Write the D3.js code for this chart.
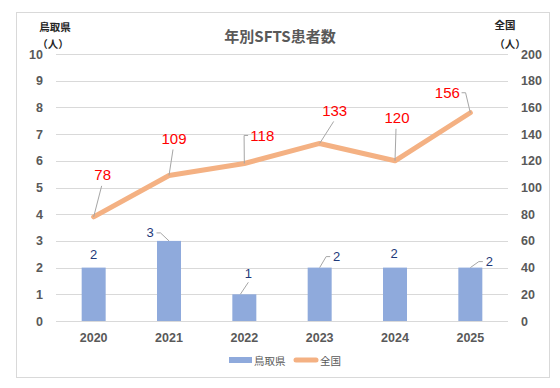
<!DOCTYPE html>
<html>
<head>
<meta charset="utf-8">
<script src="https://cdn.jsdelivr.net/npm/d3@7"></script>
<style>
  body { margin: 0; background: #fff; }
  text { font-family: "Noto Sans CJK JP", "Noto Sans", sans-serif; }
</style>
</head>
<body>
<div id="chart"></div>
<script>
// data
let years = ["2020", "2021", "2022", "2023", "2024", "2025"];
let tottori = [2, 3, 1, 2, 2, 2];
let national = [78, 109, 118, 133, 120, 156];
let leftTicks = [0, 1, 2, 3, 4, 5, 6, 7, 8, 9, 10];
let rightTicks = [0, 20, 40, 60, 80, 100, 120, 140, 160, 180, 200];

// label placement (pixel offsets from the mark, like Excel's dragged labels)
let lineLabelShift = [[9, -42], [5, -37], [18, -28], [15, -33], [2, -43], [-23, -20]];
let lineLeaderElbow = [false, false, true, false, false, true];
let barLabelShift = [[0, -13], [-19, -8], [4, -21], [17, -11], [-1, -14], [19, -6]];

let width = 560, height = 388;
let plot = { left: 56, right: 508, top: 54, bottom: 321 };

let svg = d3.select("#chart").append("svg")
  .attr("width", width).attr("height", height);

// outer frame
svg.append("rect")
  .attr("x", 16.5).attr("y", 12.5)
  .attr("width", 533).attr("height", 365)
  .attr("fill", "#fff").attr("stroke", "#d9d9d9");

let x = d3.scaleBand().domain(years).range([plot.left, plot.right]);
let yL = d3.scaleLinear().domain([0, 10]).range([plot.bottom, plot.top]);
let yR = d3.scaleLinear().domain([0, 200]).range([plot.bottom, plot.top]);

// gridlines
svg.append("g").selectAll("line").data(leftTicks).enter().append("line")
  .attr("x1", plot.left).attr("x2", plot.right)
  .attr("y1", d => Math.round(yL(d)) + 0.5).attr("y2", d => Math.round(yL(d)) + 0.5)
  .attr("stroke", "#d9d9d9").attr("stroke-width", 1);

// axes
let leftAxis = d3.axisLeft(yL).tickValues(leftTicks).tickSize(0).tickPadding(13);
let rightAxis = d3.axisRight(yR).tickValues(rightTicks).tickSize(0).tickPadding(13);
let bottomAxis = d3.axisBottom(x).tickSize(0).tickPadding(12);

function styleAxis(g) {
  g.select(".domain").remove();
  g.selectAll("text")
    .attr("fill", "#595959")
    .style("font-family", "'Liberation Sans', 'Noto Sans', sans-serif")
    .style("font-weight", "bold")
    .style("font-size", "12.5px");
}

svg.append("g").attr("transform", "translate(" + plot.left + ",0)")
  .call(leftAxis).call(styleAxis);
svg.append("g").attr("transform", "translate(" + plot.right + ",0)")
  .call(rightAxis).call(styleAxis)
  .selectAll("text").attr("x", 13);
svg.append("g").attr("transform", "translate(0," + plot.bottom + ")")
  .call(bottomAxis).call(styleAxis);

// bars
let barW = 24;
svg.append("g").selectAll("rect").data(tottori).enter().append("rect")
  .attr("x", (d, i) => x(years[i]) + x.bandwidth() / 2 - barW / 2)
  .attr("y", d => yL(d))
  .attr("width", barW)
  .attr("height", d => yL(0) - yL(d))
  .attr("fill", "#8faadc");

// line
let line = d3.line()
  .x((d, i) => x(years[i]) + x.bandwidth() / 2)
  .y(d => yR(d));
svg.append("path").datum(national)
  .attr("d", line)
  .attr("fill", "none")
  .attr("stroke", "#f4b183")
  .attr("stroke-width", 5)
  .attr("stroke-linecap", "round")
  .attr("stroke-linejoin", "round");

// elbow leader from label to the mark, Excel style
function leader(px, py, tx, ty, textW) {
  let side = tx > px ? -1 : 1;
  let ex = tx + side * (textW / 2 + 3);
  return d3.line()([[px, py], [ex + side * 4, ty], [ex, ty]]);
}

let natG = svg.append("g");
national.forEach(function(v, i) {
  let px = x(years[i]) + x.bandwidth() / 2, py = yR(v);
  let tx = px + lineLabelShift[i][0], ty = py + lineLabelShift[i][1];
  let tw = String(v).length * 7.5;
  let d = lineLeaderElbow[i]
    ? leader(px, py, tx, ty, tw)
    : d3.line()([[px, py], [tx - 1, ty + 11]]);
  natG.append("path").attr("d", d).attr("fill", "none")
    .attr("stroke", "#a6a6a6").attr("stroke-width", 1);
  natG.append("text")
    .attr("x", tx).attr("y", ty)
    .attr("text-anchor", "middle").attr("dominant-baseline", "central")
    .attr("fill", "#ff0000")
    .style("font-family", "'Liberation Sans', 'Noto Sans', sans-serif")
    .style("font-size", "15px")
    .text(v);
});

let barG = svg.append("g");
tottori.forEach(function(v, i) {
  let px = x(years[i]) + x.bandwidth() / 2, py = yL(v);
  let tx = px + barLabelShift[i][0], ty = py + barLabelShift[i][1];
  if (Math.abs(tx - px) > 6) {
    barG.append("path").attr("d", leader(px, py, tx, ty, 7)).attr("fill", "none")
      .attr("stroke", "#a6a6a6").attr("stroke-width", 1);
  } else if (ty < py - 16) {
    barG.append("path").attr("d", d3.line()([[px - 4, py], [tx, ty + 9]]))
      .attr("fill", "none").attr("stroke", "#a6a6a6").attr("stroke-width", 1);
  }
  barG.append("text")
    .attr("x", tx).attr("y", ty)
    .attr("text-anchor", "middle").attr("dominant-baseline", "central")
    .attr("fill", "#1f3a7a")
    .style("font-family", "'Liberation Sans', 'Noto Sans', sans-serif")
    .style("font-size", "13px")
    .text(v);
});

// title
svg.append("text")
  .attr("x", 280).attr("y", 35)
  .attr("text-anchor", "middle").attr("dominant-baseline", "central")
  .attr("fill", "#595959")
  .style("font-size", "15px").style("font-weight", "bold")
  .text("年別SFTS患者数");

// axis titles
let axTitles = [
  { t: "鳥取県", x: 55, y: 26 }, { t: "（人）", x: 53, y: 43 },
  { t: "全国", x: 505, y: 24 }, { t: "（人）", x: 510, y: 43 }
];
svg.append("g").selectAll("text").data(axTitles).enter().append("text")
  .attr("x", d => d.x).attr("y", d => d.y)
  .attr("text-anchor", "middle").attr("dominant-baseline", "central")
  .attr("fill", "#262626")
  .style("font-size", "10.5px").style("font-weight", "bold")
  .text(d => d.t);

// legend
let lg = svg.append("g");
lg.append("rect").attr("x", 229).attr("y", 357).attr("width", 23).attr("height", 6)
  .attr("fill", "#8faadc");
lg.append("text").attr("x", 254).attr("y", 360).attr("dominant-baseline", "central")
  .attr("fill", "#595959").style("font-size", "10.5px").text("鳥取県");
lg.append("line").attr("x1", 296).attr("x2", 316).attr("y1", 360).attr("y2", 360)
  .attr("stroke", "#f4b183").attr("stroke-width", 5).attr("stroke-linecap", "round");
lg.append("text").attr("x", 320).attr("y", 360).attr("dominant-baseline", "central")
  .attr("fill", "#595959").style("font-size", "10.5px").text("全国");
</script>
</body>
</html>
